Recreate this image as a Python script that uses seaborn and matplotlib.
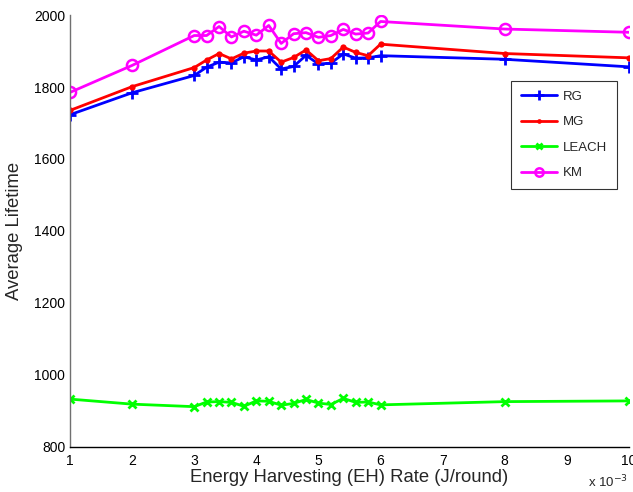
import seaborn as sns
import matplotlib.pyplot as plt
import pandas as pd
import numpy as np

# EH rate (x 10^-3 J/round)
eh_rate = [1, 2, 3, 3.2, 3.4, 3.6, 3.8, 4, 4.2, 4.4, 4.6, 4.8, 5, 5.2, 5.4, 5.6, 5.8, 6, 8, 10]

rg = [1723, 1784, 1832, 1855, 1869, 1867, 1884, 1875, 1884, 1850, 1857, 1888,
      1864, 1866, 1892, 1880, 1881, 1887, 1877, 1856]
mg = [1735, 1801, 1854, 1875, 1893, 1878, 1894, 1900, 1900, 1869, 1882, 1903,
      1873, 1879, 1911, 1896, 1887, 1919, 1893, 1881]
leach = [933, 919, 912, 925, 926, 924, 913, 928, 927, 916, 921, 932,
         922, 918, 935, 924, 925, 917, 926, 928]
km = [1785, 1860, 1943, 1943, 1968, 1939, 1955, 1944, 1971, 1921, 1948, 1951,
      1938, 1943, 1960, 1947, 1950, 1982, 1961, 1952]

sns.set_style("white")
plt.rcParams['font.family'] = ['Liberation Sans', 'DejaVu Sans']

fig = plt.figure(figsize=(6.33, 4.92), dpi=100)
ax = fig.add_axes([0.1106, 0.0915, 0.883, 0.878])

sns.lineplot(x=eh_rate, y=rg, ax=ax, color='#0000ff', lw=2, marker='+',
             markersize=9, mew=2, mec='#0000ff', label='RG')
sns.lineplot(x=eh_rate, y=mg, ax=ax, color='#ff0000', lw=2, marker='o',
             markersize=4.5, mew=0, mec='#ff0000', label='MG')
sns.lineplot(x=eh_rate, y=leach, ax=ax, color='#00ff00', lw=2, marker='x',
             markersize=6, mew=2, mec='#00ff00', label='LEACH')
sns.lineplot(x=eh_rate, y=km, ax=ax, color='#ff00ff', lw=2, marker='o',
             markersize=8, mew=1.8, mec='#ff00ff', markerfacecolor='none',
             label='KM')

ax.set_xlim(1, 10)
ax.set_ylim(800, 2000)
ax.set_xticks(range(1, 11))
ax.set_yticks(range(800, 2001, 200))
ax.tick_params(direction='in', length=4, width=0.8, labelsize=10, colors='black')
ax.tick_params(axis='x', pad=5)
sns.despine(ax=ax)
ax.spines['left'].set_color('#707070')
ax.spines['bottom'].set_color('black')
ax.spines['left'].set_linewidth(1)
ax.spines['bottom'].set_linewidth(1)

ax.set_xlabel('Energy Harvesting (EH) Rate (J/round)', fontsize=13.3, labelpad=1)
ax.set_ylabel('Average Lifetime', fontsize=13.3, labelpad=8)
ax.text(0.998, -0.082, 'x 10$^{-3}$', transform=ax.transAxes, ha='right',
        va='center', fontsize=9.5)

leg = ax.legend(loc='upper right', bbox_to_anchor=(0.9785, 0.847),
                borderaxespad=0, fontsize=9.5, frameon=True, fancybox=False,
                edgecolor='black', handlelength=2.75, handletextpad=0.45,
                labelspacing=1.0, borderpad=0.72, markerscale=0.75)
leg.get_frame().set_linewidth(0.8)

fig.savefig('out.png', dpi=100)
